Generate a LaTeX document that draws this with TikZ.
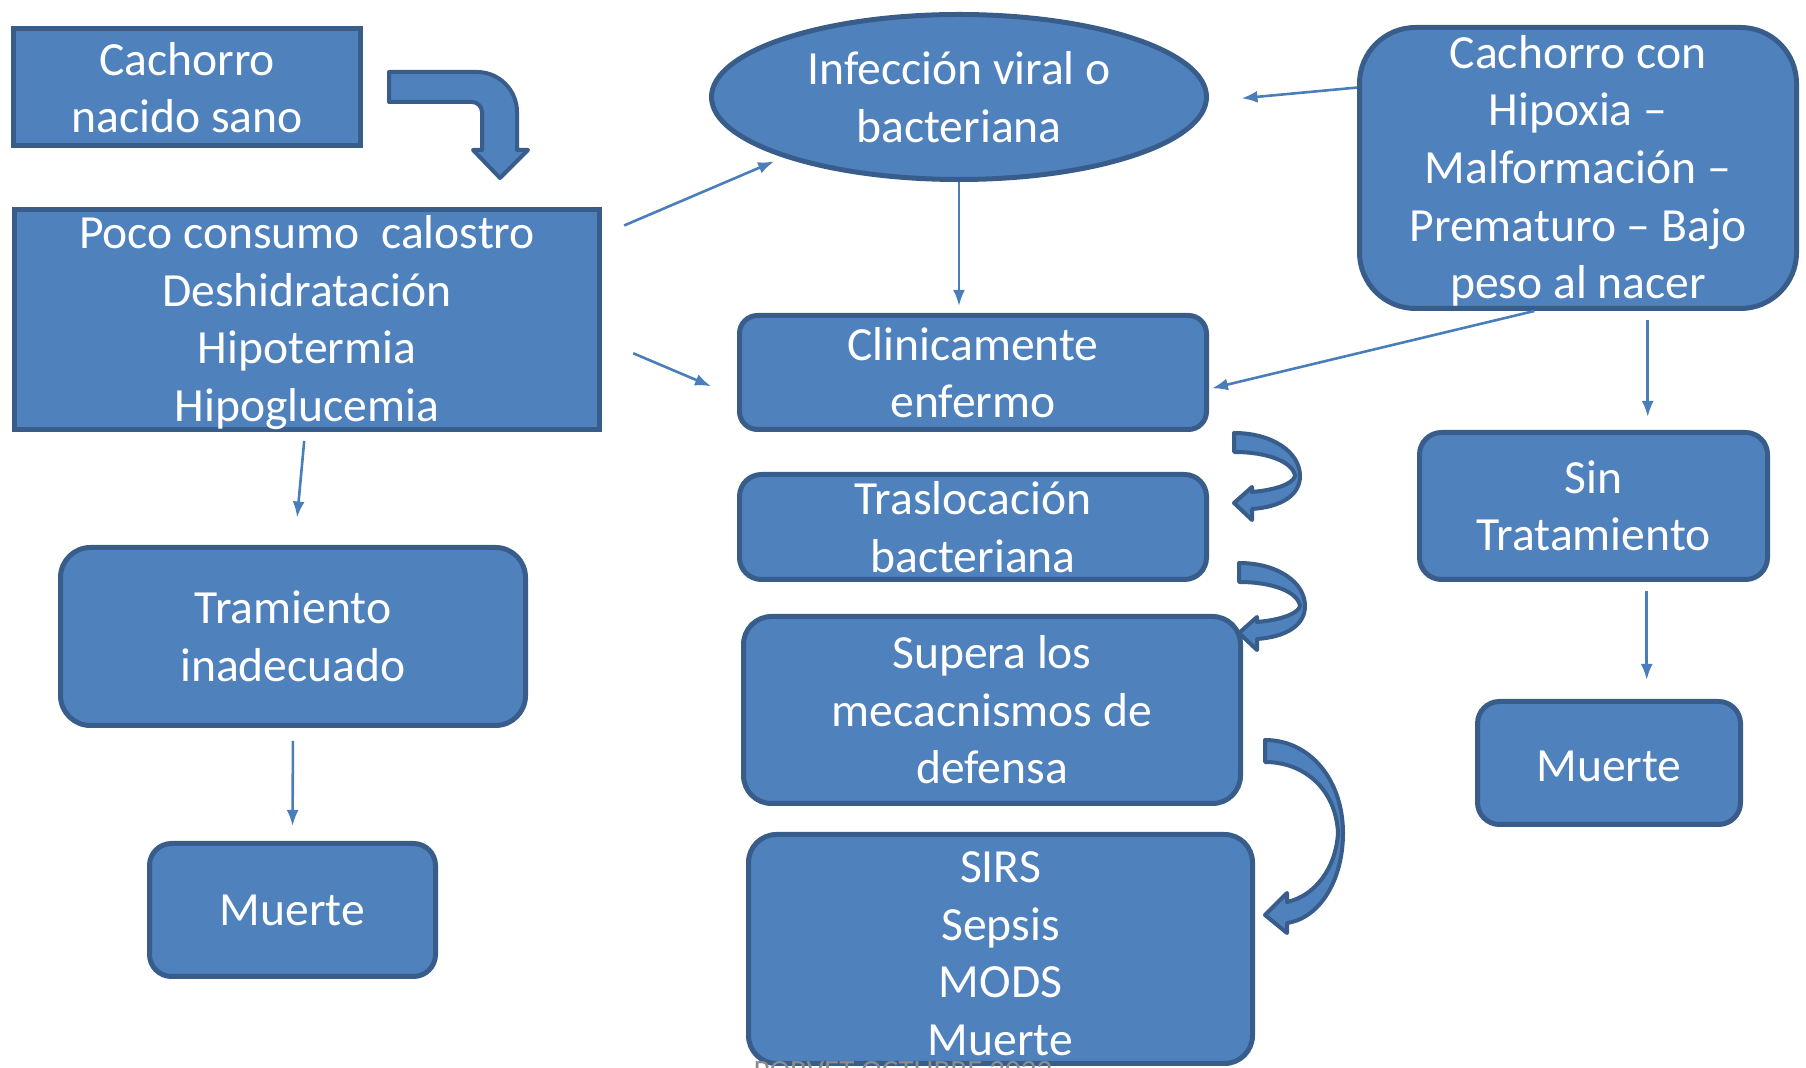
\documentclass[tikz,border=0pt]{standalone}
\usepackage{fontspec}
\setmainfont{Carlito}
\usetikzlibrary{arrows.meta,shapes.geometric}
\definecolor{boxfill}{HTML}{4F81BD}
\definecolor{boxline}{HTML}{385D8A}
\definecolor{linkcol}{HTML}{4A7EBB}

\begin{document}
\begin{tikzpicture}[x=0.5pt,y=-0.5pt,
  box/.style={draw=boxline,fill=boxfill,line width=2.5pt,text=white,align=center,inner sep=0pt,
    font=\fontsize{23.8}{28.8}\selectfont},
  rbox/.style={box,rounded corners=#1},
  link/.style={draw=linkcol,line width=1.3pt,-{Latex[length=8pt,width=6pt]}},
  blockarrow/.style={draw=boxline,fill=boxfill,line width=2pt,line join=round}]
\useasboundingbox (0,0) rectangle (1806,1068);

\node[box,minimum width=173.3pt,minimum height=58.5pt] (sano) at (187,87.5) {Cachorro\\nacido sano};
\node[box,minimum width=292.8pt,minimum height=110pt,text depth=1pt] (poco) at (307,319.5)
  {Poco consumo~ calostro\\Deshidratación\\Hipotermia\\Hipoglucemia};
\node[box,ellipse,minimum width=247.5pt,minimum height=82.5pt] (infec) at (959,97) {Infección viral o\\bacteriana};
\node[rbox=28pt,minimum width=218.5pt,minimum height=140.5pt,text depth=1pt] (hipox) at (1578,168)
  {Cachorro con\\Hipoxia –\\Malformación –\\Prematuro – Bajo\\peso al nacer};
\node[rbox=9pt,minimum width=233.5pt,minimum height=57pt] (clinic) at (973,372.5) {Clinicamente\\enfermo};
\node[rbox=11pt,minimum width=233.5pt,minimum height=52.5pt] (trasl) at (973,527) {Traslocación\\bacteriana};
\node[rbox=14pt,minimum width=248.5pt,minimum height=93.5pt] (supera) at (992,710) {Supera los\\mecacnismos de\\defensa};
\node[rbox=14pt,minimum width=252pt,minimum height=114.5pt] (sirs) at (1000.5,949) {\rule{0pt}{20pt}SIRS\\Sepsis\\MODS\\Muerte};
\node[rbox=15pt,minimum width=232.5pt,minimum height=89pt] (tram) at (293,636.5) {Tramiento\\inadecuado};
\node[rbox=11pt,minimum width=143pt,minimum height=66.5pt] (muerteL) at (292.5,910) {Muerte};
\node[rbox=11pt,minimum width=174pt,minimum height=73.5pt] (sintrat) at (1593.5,506) {Sin\\Tratamiento};
\node[rbox=11pt,minimum width=131.5pt,minimum height=61.5pt] (muerteR) at (1609,763) {\rule{0pt}{18.8pt}Muerte};

\draw[blockarrow] (389,72) -- (477,72) .. controls (499,72) and (517,90) .. (517,112) -- (517,150) -- (528,150)
  -- (500,178) -- (473,150) -- (482,150) -- (482,112) .. controls (482,106.5) and (477.5,102) .. (472,102)
  -- (389,102) -- cycle;
\draw[blockarrow] (1234,433) .. controls (1272,433) and (1300,452) .. (1300,476)
  .. controls (1300,496) and (1280,507) .. (1252,509) -- (1252,520) -- (1234,503) -- (1252,487) -- (1252,492)
  .. controls (1275,490) and (1293,484) .. (1295,476) .. controls (1293,462) and (1268,452) .. (1234,452) -- cycle;
\begin{scope}[shift={(5,130)}]
\draw[blockarrow] (1234,433) .. controls (1272,433) and (1300,452) .. (1300,476)
  .. controls (1300,496) and (1280,507) .. (1252,509) -- (1252,520) -- (1234,503) -- (1252,487) -- (1252,492)
  .. controls (1275,490) and (1293,484) .. (1295,476) .. controls (1293,462) and (1268,452) .. (1234,452) -- cycle;
\end{scope}
\draw[blockarrow] (1265,740) .. controls (1310,740) and (1343,780) .. (1343,833)
  .. controls (1343,880) and (1320,918) .. (1287,923) -- (1287,933) -- (1265,915) -- (1287,893) -- (1287,902)
  .. controls (1315,896) and (1336,868) .. (1338,833) .. controls (1336,790) and (1305,762) .. (1265,762) -- cycle;

\draw[link,shorten <=11.9pt,shorten >=5pt] (poco.16.9) -- (infec.199.1);
\draw[link,shorten <=16.8pt,shorten >=14.1pt] (poco.-4.3) -- (clinic.186.4);
\draw[link,shorten >=3.5pt] (infec.south) -- (infec.south |- clinic.north);
\draw[link,shorten >=16.5pt] (hipox.160) -- (infec.-1.8);
\draw[link,shorten >=1.5pt] (hipox.253.8) -- (clinic.-4.2);
\draw[link,shorten <=4.5pt,shorten >=6.5pt] (hipox.-64.6) -- (hipox.-64.6 |- sintrat.north);
\draw[link,shorten <=4.5pt,shorten >=9.5pt] (sintrat.-55.4) -- (sintrat.-55.4 |- muerteR.north);
\draw[link,shorten <=4.5pt,shorten >=13.8pt] (poco.-91) -- (tram.89.1);
\draw[link,shorten <=6.5pt,shorten >=7.5pt] (tram.south) -- (muerteL.north);

\node[font=\fontsize{15.5}{18}\selectfont,text=black!45,anchor=north,inner sep=0pt] (pie) at (903,1061) {PORVET OCTUBRE 2022};
\end{tikzpicture}
\end{document}
